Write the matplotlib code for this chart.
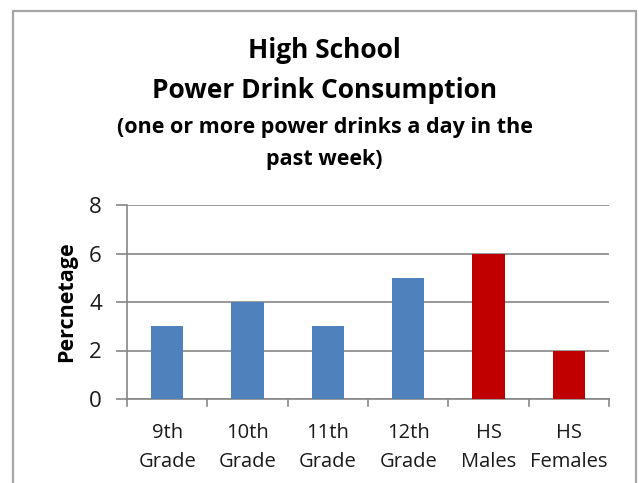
import matplotlib
matplotlib.use("Agg")
import matplotlib.pyplot as plt
from matplotlib.patches import Rectangle

categories = ["9th\nGrade", "10th\nGrade", "11th\nGrade", "12th\nGrade", "HS\nMales", "HS\nFemales"]
values = [3, 4, 3, 5, 6, 2]
bar_colors = ["#4F81BD", "#4F81BD", "#4F81BD", "#4F81BD", "#C00000", "#C00000"]
yticks = [0, 2, 4, 6, 8]

plt.rcParams['font.family'] = ['Open Sans', 'DejaVu Sans']

fig = plt.figure(figsize=(6.39, 4.83), dpi=100)
fig.patch.set_facecolor("white")

# outer chart frame
frame = Rectangle((13 / 639, -0.05), (636 - 13) / 639, (483 - 11) / 483 + 0.05,
                  transform=fig.transFigure, fill=False, edgecolor="#A6A6A6", linewidth=1.6)
fig.add_artist(frame)

ax = fig.add_axes([127 / 639, 84 / 483, (609 - 127) / 639, (399 - 205) / 483])
x = list(range(len(categories)))
ax.bar(x, values, width=0.4, color=bar_colors, zorder=3)
ax.set_xlim(-0.5, len(categories) - 0.5)
ax.set_ylim(0, 8)
ax.set_yticks(yticks)
ax.set_yticklabels([str(t) for t in yticks], fontsize=16, color="#1a1a1a")
ax.set_xticks(x)
ax.set_xticklabels(categories, fontsize=14.5, color="#1a1a1a", linespacing=1.6)
ax.tick_params(axis="x", length=0, pad=17)
ax.tick_params(axis="y", length=8, color="#868686", width=1.2, pad=10)
for b in [i - 0.5 for i in range(len(categories) + 1)]:
    ax.plot([b, b], [0, -0.28], color="#868686", lw=1.2, clip_on=False, zorder=2)
ax.grid(axis="y", color="#868686", linewidth=1.2, zorder=1)
for s in ["top", "right"]:
    ax.spines[s].set_visible(False)
for s in ["left", "bottom"]:
    ax.spines[s].set_color("#868686")
    ax.spines[s].set_linewidth(1.2)
ax.set_ylabel("Percnetage", fontsize=15.5, fontweight="bold", labelpad=9)

cx = (13 + 636) / 2 / 639
fig.text(cx, 1 - 50 / 483, "High School", ha="center", va="center", fontsize=19, fontweight="bold")
fig.text(cx, 1 - 91 / 483, "Power Drink Consumption", ha="center", va="center", fontsize=19, fontweight="bold")
fig.text(cx, 1 - 128 / 483, "(one or more power drinks a day in the", ha="center", va="center", fontsize=15.5, fontweight="bold")
fig.text(cx, 1 - 159 / 483, "past week)", ha="center", va="center", fontsize=15.5, fontweight="bold")

fig.savefig("out.png", dpi=100)
